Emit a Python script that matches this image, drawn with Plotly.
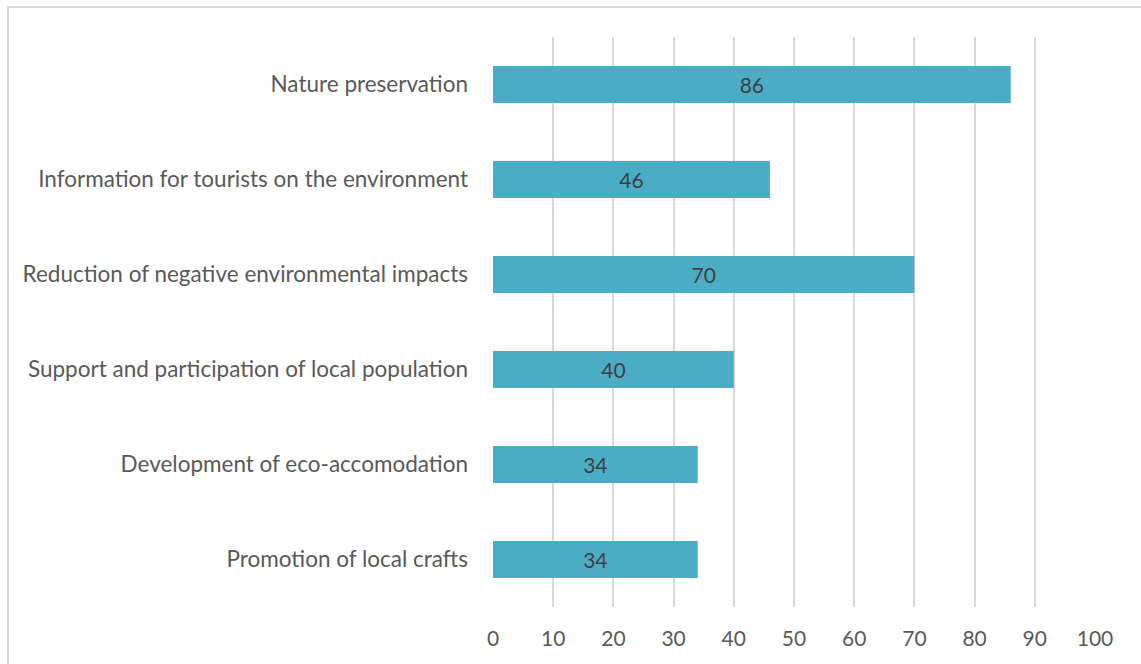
import plotly.graph_objects as go

categories = [
    "Promotion of local crafts",
    "Development of eco-accomodation",
    "Support and participation of local population",
    "Reduction of negative environmental impacts",
    "Information for tourists on the environment",
    "Nature preservation",
]
values = [34, 34, 40, 70, 46, 86]
tick_vals = [0, 10, 20, 30, 40, 50, 60, 70, 80, 90, 100]

W, H = 1141, 664
L, R, T, B = 493, 46, 37, 57
pw, ph = W - L - R, H - T - B
FONT = "Lato"

fig = go.Figure(go.Bar(
    y=categories, x=values, orientation="h",
    marker=dict(color="#4BACC6", line=dict(width=0)),
    text=[str(v) for v in values], textposition="inside", insidetextanchor="middle",
    textfont=dict(color="#404040", size=21, family=FONT),
    width=0.39,
))

fig.update_layout(
    width=W, height=H,
    margin=dict(l=L, r=R, t=T, b=B),
    paper_bgcolor="white", plot_bgcolor="white",
    font=dict(family=FONT, color="#595959", size=21),
    showlegend=False,
    xaxis=dict(range=[0, 100], tickvals=tick_vals, showgrid=True, gridcolor="#d9d9d9",
               gridwidth=1.5, zeroline=False, showline=False, ticks="",
               ticklabelstandoff=17, tickfont=dict(size=21)),
    yaxis=dict(showgrid=False, zeroline=False, showline=False, ticks="",
               ticklabelstandoff=24, range=[-0.5, 5.5], tickfont=dict(size=22.5)),
    shapes=[dict(type="rect", xref="paper", yref="paper",
                 x0=(8 - L) / pw, x1=(W + 20 - L) / pw,
                 y0=-(H + 20 - T - ph) / ph, y1=(H - 7 - B) / ph,
                 line=dict(color="#d9d9d9", width=2), fillcolor="rgba(0,0,0,0)",
                 layer="below")],
)
fig.update_traces(cliponaxis=False)
fig.write_html("out.html", config={"displayModeBar": False},
               post_script="document.body.style.margin='0';")
